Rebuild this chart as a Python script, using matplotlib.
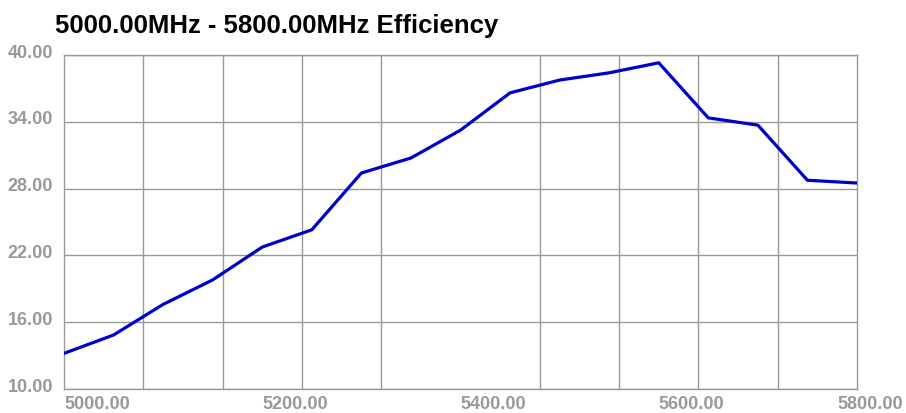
import matplotlib
matplotlib.use('Agg')
import numpy as np
from matplotlib.pyplot import figure
from matplotlib.ticker import FixedLocator, FormatStrFormatter
from matplotlib.transforms import ScaledTranslation

# frequency [MHz] and efficiency [%]
freq = [5000, 5050, 5100, 5150, 5200, 5250, 5300, 5350, 5400,
        5450, 5500, 5550, 5600, 5650, 5700, 5750, 5800]
eff = [13.2, 14.85, 17.6, 19.8, 22.75, 24.3, 29.4, 30.75, 33.25,
       36.6, 37.75, 38.4, 39.3, 34.35, 33.7, 28.75, 28.5]

xticks = [5000, 5200, 5400, 5600, 5800]
xgrid = np.arange(5000, 5801, 80)
yticks = [10, 16, 22, 28, 34, 40]

W, H = 906, 413
fg = figure(figsize=(W/100, H/100), dpi=100)
ax = fg.add_axes([64/W, 1-389/H, (857-64)/W, (389-55)/H])

ax.plot(freq, eff, color='#0000cc', linewidth=2.3, solid_capstyle='round', zorder=3)

ax.set_xlim(5000, 5800)
ax.set_ylim(10, 40)
ax.set_xticks(xticks)
ax.xaxis.set_minor_locator(FixedLocator(xgrid))
ax.set_yticks(yticks)
ax.xaxis.set_major_formatter(FormatStrFormatter('%.2f'))
ax.yaxis.set_major_formatter(FormatStrFormatter('%.2f'))

ax.grid(False, axis='x', which='major')
ax.grid(True, axis='x', which='minor', color='#999999', linewidth=1.0)
ax.grid(True, axis='y', which='major', color='#999999', linewidth=1.0)
ax.set_axisbelow(True)
for s in ax.spines.values():
    s.set_color('#999999')
    s.set_linewidth(1.0)

ax.tick_params(axis='both', which='both', length=0)
ax.tick_params(axis='x', pad=5)
ax.tick_params(axis='y', pad=8)

lblfont = dict(family=['Liberation Sans', 'DejaVu Sans'], weight='bold', size=13)
for t in ax.get_xticklabels():
    t.set(color='#999999', ha='left', **lblfont)
ax.get_xticklabels()[-1].set_transform(
    ax.get_xticklabels()[-1].get_transform() + ScaledTranslation(-0.2, 0, fg.dpi_scale_trans))
for t in ax.get_yticklabels():
    t.set(color='#999999', **lblfont)
    t.set_transform(t.get_transform() + ScaledTranslation(0, 0.04, fg.dpi_scale_trans))

fg.text(55/W, 1-33/H, '5000.00MHz - 5800.00MHz Efficiency',
        family=['Liberation Sans', 'DejaVu Sans'], weight='bold', size=18.5,
        color='black', ha='left', va='baseline')

fg.savefig('out.png', dpi=100, facecolor='white')
